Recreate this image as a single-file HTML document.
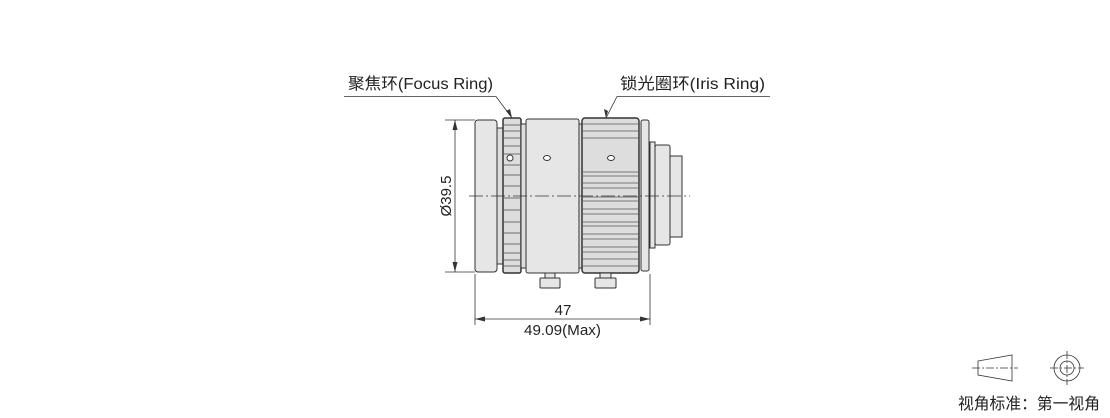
<!DOCTYPE html>
<html><head><meta charset="utf-8"><style>
body{margin:0;background:#fff}
svg text{font-family:"Liberation Sans","Noto Sans CJK SC",sans-serif;fill:#222}
</style></head><body>
<svg width="1110" height="413" viewBox="0 0 1110 413" xmlns="http://www.w3.org/2000/svg">
<g stroke="#333" stroke-width="1" fill="#e6e6e6">
<rect x="475" y="120" width="22" height="152" rx="3"/>
<rect x="497" y="128" width="6" height="136" fill="#ddd"/>
<rect x="503" y="118" width="18" height="155" rx="2" fill="#ddd" stroke-width="1.5"/>
<rect x="526" y="119" width="53" height="154" rx="2"/>
<rect x="521" y="124" width="5" height="144" fill="#ddd"/>
<rect x="579" y="124" width="3" height="144" fill="#ddd"/>
<rect x="582" y="118" width="57" height="155" rx="3" fill="#ddd" stroke-width="1.5"/>
<rect x="641" y="120" width="8" height="151" rx="2"/>
<rect x="650" y="142" width="5" height="106"/>
<rect x="655" y="145" width="15" height="100" rx="2"/>
<rect x="670" y="156" width="12" height="81"/>
<rect x="540" y="278" width="20" height="10" rx="1"/>
<rect x="545" y="273" width="10" height="5"/>
<rect x="595" y="278" width="21" height="10" rx="1"/>
<rect x="600" y="273" width="11" height="5"/>
<ellipse cx="547" cy="158" rx="3.5" ry="2.5" fill="#fff"/>
<ellipse cx="611" cy="158" rx="3.5" ry="2.5" fill="#fff"/>
<ellipse cx="510" cy="158" rx="3" ry="3" fill="#fff"/>
</g>
<g stroke="#555" stroke-width="0.8">
<line x1="504" y1="125" x2="520" y2="125"/><line x1="504" y1="131" x2="520" y2="131"/>
<line x1="504" y1="138" x2="520" y2="138"/><line x1="504" y1="146" x2="520" y2="146"/>
<line x1="504" y1="154" x2="520" y2="154"/><line x1="504" y1="165" x2="520" y2="165"/>
<line x1="504" y1="175" x2="520" y2="175"/><line x1="504" y1="186" x2="520" y2="186"/>
<line x1="504" y1="198" x2="520" y2="198"/><line x1="504" y1="210" x2="520" y2="210"/>
<line x1="504" y1="222" x2="520" y2="222"/><line x1="504" y1="233" x2="520" y2="233"/>
<line x1="504" y1="244" x2="520" y2="244"/><line x1="504" y1="253" x2="520" y2="253"/>
<line x1="504" y1="260" x2="520" y2="260"/><line x1="504" y1="266" x2="520" y2="266"/>
</g>
<g stroke="#555" stroke-width="0.8">
<line x1="583" y1="124" x2="638" y2="124"/><line x1="583" y1="131" x2="638" y2="131"/>
<line x1="583" y1="138" x2="638" y2="138"/><line x1="583" y1="172" x2="638" y2="172"/>
<line x1="583" y1="176" x2="638" y2="176"/><line x1="583" y1="183" x2="638" y2="183"/>
<line x1="583" y1="188" x2="638" y2="188"/><line x1="583" y1="197" x2="638" y2="197"/>
<line x1="583" y1="201" x2="638" y2="201"/><line x1="583" y1="209" x2="638" y2="209"/>
<line x1="583" y1="214" x2="638" y2="214"/><line x1="583" y1="222" x2="638" y2="222"/>
<line x1="583" y1="226" x2="638" y2="226"/><line x1="583" y1="234" x2="638" y2="234"/>
<line x1="583" y1="239" x2="638" y2="239"/><line x1="583" y1="247" x2="638" y2="247"/>
<line x1="583" y1="252" x2="638" y2="252"/><line x1="583" y1="259" x2="638" y2="259"/>
<line x1="583" y1="266" x2="638" y2="266"/>
</g>
<line x1="469" y1="196" x2="690" y2="196" stroke="#333" stroke-width="0.8" stroke-dasharray="14,3,2,3"/>
<g stroke="#333" stroke-width="0.8" fill="none">
<line x1="445" y1="120" x2="475" y2="120"/><line x1="445" y1="272" x2="475" y2="272"/>
<line x1="455" y1="120" x2="455" y2="272"/>
<line x1="475" y1="274" x2="475" y2="325"/><line x1="650" y1="274" x2="650" y2="325"/>
<line x1="475" y1="319" x2="650" y2="319"/>
<polyline points="344,96.5 496,96.5 512,118"/>
<polyline points="770,96.5 617,96.5 606,118"/>
</g>
<g fill="#333">
<polygon points="455,120 452.5,130 457.5,130"/><polygon points="455,272 452.5,262 457.5,262"/>
<polygon points="475,319 485,316.5 485,321.5"/><polygon points="650,319 640,316.5 640,321.5"/>
<polygon points="512,118 506,111 510,109"/><polygon points="606,118 604,109 608,111"/>
</g>
<text x="348" y="89" font-size="16" textLength="145" lengthAdjust="spacingAndGlyphs">聚焦环(Focus Ring)</text>
<text x="620" y="89" font-size="16" textLength="145" lengthAdjust="spacingAndGlyphs">锁光圈环(Iris Ring)</text>
<text x="563" y="315" font-size="15" text-anchor="middle">47</text>
<text x="524" y="335" font-size="15" textLength="77" lengthAdjust="spacingAndGlyphs">49.09(Max)</text>
<text transform="translate(451,196) rotate(-90)" font-size="15" text-anchor="middle">Ø39.5</text>
<g stroke="#333" stroke-width="0.8" fill="none">
<polygon points="978,361 1012,355 1012,381 978,375"/>
<line x1="972" y1="368" x2="1018" y2="368" stroke-dasharray="8,2,2,2"/>
<circle cx="1067" cy="368" r="13"/><circle cx="1067" cy="368" r="7"/>
<line x1="1050" y1="368" x2="1084" y2="368" stroke-dasharray="8,2,2,2"/>
<line x1="1067" y1="351" x2="1067" y2="385" stroke-dasharray="8,2,2,2"/>
</g>
<text x="958" y="409" font-size="16" textLength="142" lengthAdjust="spacingAndGlyphs">视角标准：第一视角</text>
</svg>
</body></html>
